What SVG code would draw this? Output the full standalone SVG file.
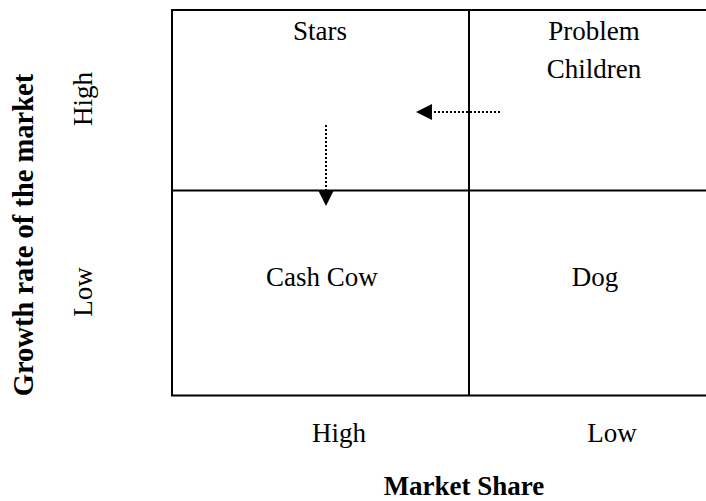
<svg xmlns="http://www.w3.org/2000/svg" width="706" height="501" viewBox="0 0 706 501">
  <style>
    .grid { stroke: #000; stroke-width: 2; fill: none; }
    .lbl { font-family: "Liberation Serif", "Times New Roman", serif; font-size: 27px; fill: #000; text-anchor: middle; }
    .axis { font-family: "Liberation Serif", "Times New Roman", serif; font-size: 27px; font-weight: bold; fill: #000; text-anchor: middle; }
    .flow { stroke: #000; stroke-width: 2; stroke-dasharray: 2 2; fill: none; }
  </style>
  <defs>
    <marker id="head" viewBox="0 0 16 16" refX="15" refY="8" markerWidth="16" markerHeight="16" markerUnits="userSpaceOnUse" orient="auto">
      <path d="M0,0 L16,8 L0,16 Z" fill="#000"/>
    </marker>
  </defs>

  <rect width="706" height="501" fill="#fff"/>

  <!-- matrix frame (right edge runs past the canvas) -->
  <g id="matrix">
    <polyline class="grid" points="710,10 172,10 172,395.5 710,395.5"/>
    <line class="grid" x1="469" y1="10" x2="469" y2="395.5"/>
    <line class="grid" x1="172" y1="190.5" x2="710" y2="190.5"/>
  </g>

  <g id="stars"><text class="lbl" x="320" y="40">Stars</text></g>
  <g id="problem-children">
    <text class="lbl" x="594" y="40">Problem</text>
    <text class="lbl" x="594" y="78">Children</text>
  </g>
  <g id="cash-cow"><text class="lbl" x="322" y="286">Cash Cow</text></g>
  <g id="dog"><text class="lbl" x="595" y="286">Dog</text></g>

  <!-- axis labels -->
  <g id="x-axis">
    <text class="lbl" x="339" y="442">High</text>
    <text class="lbl" x="612" y="442">Low</text>
    <text class="axis" x="464" y="495">Market Share</text>
  </g>
  <g id="y-axis">
    <text class="lbl" transform="translate(92,99) rotate(-90)">High</text>
    <text class="lbl" transform="translate(92,292) rotate(-90)">Low</text>
    <text class="axis" style="font-size:28.5px" transform="translate(33,235) rotate(-90)">Growth rate of the market</text>
  </g>

  <!-- movement arrows -->
  <g id="connectors">
    <line class="flow" x1="500" y1="112" x2="417" y2="112" marker-end="url(#head)"/>
    <line class="flow" x1="326" y1="125" x2="326" y2="205" marker-end="url(#head)"/>
  </g>
</svg>
